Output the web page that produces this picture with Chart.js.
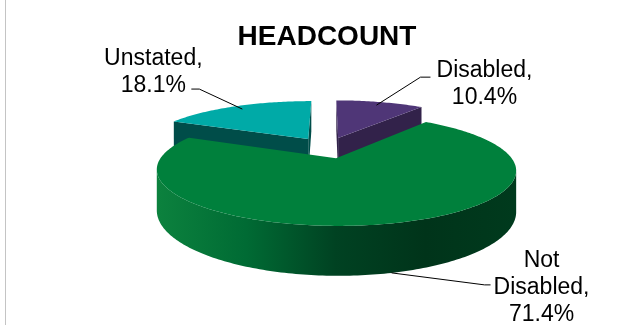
<!DOCTYPE html>
<html>
<head>
<meta charset="utf-8">
<script src="https://cdn.jsdelivr.net/npm/chart.js@4.4.1/dist/chart.umd.min.js"></script>
<style>
  body { margin: 0; background: #fff; overflow: hidden; }
  #wrap { position: relative; width: 641px; height: 325px; }
  #edge { position: absolute; left: 5px; top: 0; width: 1px; height: 325px; background: #c4c4c4; }
</style>
</head>
<body>
<div id="wrap"><canvas id="headcountChart"></canvas><div id="edge"></div></div>
<script>
const categories = ['Disabled', 'Not Disabled', 'Unstated'];
const shares = [10.4, 71.4, 18.1];

const topColors = ['#4f3677', '#00803c', '#00aaa7'];
// wall gradient (left -> right) and cut face colour per slice
const wallColors = [
  ['#3e2a5c', '#33224a', '#2a1b3d'],
  ['#0c823e', '#006b34', '#004222', '#00341a', '#003a1d'],
  ['#005d58', '#004d49', '#00403c']
];
const faceColors = ['#32224a', '#004a2a', '#004d49'];

// fake 3d view: ellipse with a bit of perspective
const view = { cx: 327, cy: 147.5, rx: 168, ry: 48.8, depth: 37.5, persp: 0.205, explode: 0.215 };

// where each data label sits, relative to its anchor on the slice
const labelLayout = [
  { dx: 108, dy: -28, elbow: [44, -28], end: [54, -28] },
  { dx: 150, dy: -6, elbow: [93, 12], end: [99, 12] },
  { dx: -89, dy: -44, elbow: [-43, -20], end: [-51, -20] }
];

function project(u, v, h) {
  const s = 1 / (1 - view.persp * v);
  return [view.cx + view.rx * u * s, view.cy + (view.ry * v + view.depth * h) * s];
}

function area(pts) {
  let s = 0;
  for (let i = 0; i < pts.length; i++) {
    const p = pts[i], q = pts[(i + 1) % pts.length];
    s += p[0] * q[1] - q[0] * p[1];
  }
  return s;
}

function sliceGeom(arc) {
  const a0 = arc.startAngle, a1 = arc.endAngle, mid = (a0 + a1) / 2;
  const ou = view.explode * Math.cos(mid), ov = view.explode * Math.sin(mid);
  return {
    a0, a1, mid,
    rim: (a, h, r = 1) => project(ou + r * Math.cos(a), ov + r * Math.sin(a), h),
    hub: h => project(ou, ov, h)
  };
}

function fillPoly(ctx, pts, color) {
  ctx.beginPath();
  pts.forEach((p, i) => i ? ctx.lineTo(p[0], p[1]) : ctx.moveTo(p[0], p[1]));
  ctx.closePath();
  ctx.fillStyle = color;
  ctx.fill();
}

function labelLines(i) {
  const words = (categories[i] + ',').split(' ');
  return words.concat([shares[i].toFixed(1) + '%']);
}

const pie3d = {
  id: 'pie3d',
  beforeDatasetsDraw(chart) {
    const ctx = chart.ctx;
    const arcs = chart.getDatasetMeta(0).data;
    const geoms = arcs.map(sliceGeom);
    const step = Math.PI / 180;

    ctx.save();
    // cut faces that look towards us
    geoms.forEach((g, i) => {
      [[g.a0, -1], [g.a1, 1]].forEach(([a, side]) => {
        const pts = [g.hub(0), g.rim(a, 0), g.rim(a, 1), g.hub(1)];
        if (area(pts) * side > 0) fillPoly(ctx, pts, faceColors[i]);
      });
    });

    // outer walls, only the part facing the viewer
    const grad = (cols) => {
      const gr = ctx.createLinearGradient(view.cx - view.rx * 1.02, 0, view.cx + view.rx * 1.12, 0);
      cols.forEach((c, k) => gr.addColorStop(k / (cols.length - 1), c));
      return gr;
    };
    geoms.forEach((g, i) => {
      const n = Math.max(2, Math.ceil((g.a1 - g.a0) / step));
      const angs = [];
      for (let k = 0; k <= n; k++) angs.push(g.a0 + (g.a1 - g.a0) * k / n);
      let run = [];
      const flush = () => {
        if (run.length > 1) {
          const pts = run.map(a => g.rim(a, 0)).concat(run.slice().reverse().map(a => g.rim(a, 1)));
          fillPoly(ctx, pts, grad(wallColors[i]));
        }
        run = [];
      };
      for (let k = 0; k < n; k++) {
        const a = angs[k], b = angs[k + 1];
        const q = [g.rim(a, 0), g.rim(b, 0), g.rim(b, 1), g.rim(a, 1)];
        if (area(q) < 0) {
          if (!run.length) run.push(a);
          run.push(b);
        } else flush();
      }
      flush();
    });

    // top faces
    geoms.forEach((g, i) => {
      const n = Math.max(2, Math.ceil((g.a1 - g.a0) / step));
      const pts = [g.hub(0)];
      for (let k = 0; k <= n; k++) pts.push(g.rim(g.a0 + (g.a1 - g.a0) * k / n, 0));
      fillPoly(ctx, pts, topColors[i]);
    });

    // data labels with leader lines
    ctx.font = '23px "Liberation Sans", Arial, sans-serif';
    ctx.textAlign = 'center';
    ctx.textBaseline = 'alphabetic';
    ctx.fillStyle = '#000';
    ctx.strokeStyle = '#000';
    ctx.lineWidth = 1;
    geoms.forEach((g, i) => {
      const anchor = Math.sin(g.mid) > 0.5 ? g.rim(g.mid, 1, 1) : g.rim(g.mid, 0, 0.9);
      const L = labelLayout[i];
      ctx.beginPath();
      ctx.moveTo(anchor[0], anchor[1]);
      ctx.lineTo(anchor[0] + L.elbow[0], anchor[1] + L.elbow[1]);
      ctx.lineTo(anchor[0] + L.end[0], anchor[1] + L.end[1]);
      ctx.stroke();
      labelLines(i).forEach((t, k) => {
        ctx.fillText(t, anchor[0] + L.dx, anchor[1] + L.dy + k * 27);
      });
    });
    ctx.restore();
    return false;
  }
};

Chart.defaults.font.family = '"Liberation Sans", Arial, sans-serif';

const headcountChart = new Chart(document.getElementById('headcountChart').getContext('2d'), {
  type: 'pie',
  data: {
    labels: categories,
    datasets: [{
      data: shares,
      backgroundColor: topColors,
      borderWidth: 0
    }]
  },
  options: {
    responsive: true,
    maintainAspectRatio: false,
    animation: false,
    events: [],
    layout: { padding: { left: 13 } },
    plugins: {
      legend: { display: false },
      tooltip: { enabled: false },
      title: {
        display: true,
        text: 'HEADCOUNT',
        color: '#000',
        font: { size: 28, weight: 'bold' },
        padding: { top: 20, bottom: 0 }
      }
    }
  },
  plugins: [pie3d]
});
</script>
</body>
</html>
